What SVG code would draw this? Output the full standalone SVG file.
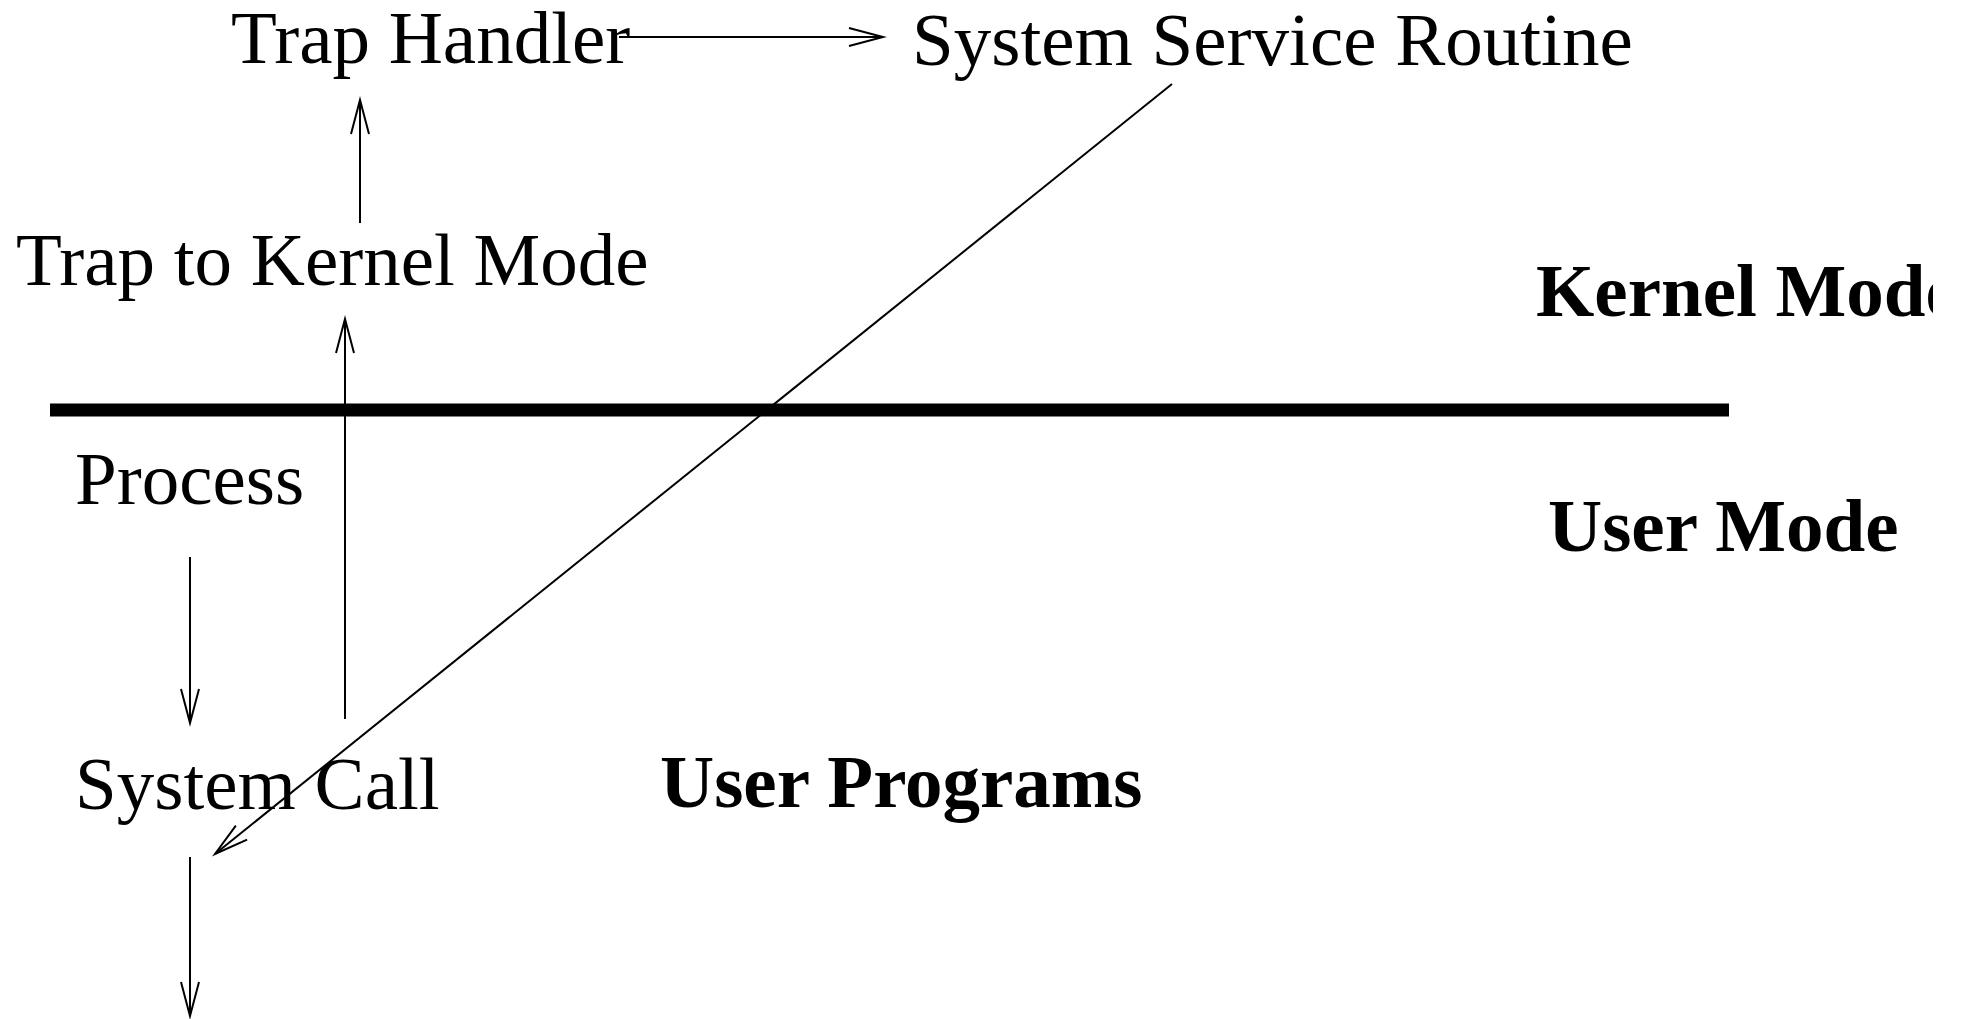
<svg xmlns="http://www.w3.org/2000/svg" width="1961" height="1019" viewBox="0 0 1961 1019">
<style>
.t{font-family:"Liberation Serif","Times New Roman",serif;font-size:75px;fill:#000}
.b{font-weight:bold}
.c{stroke:#000;stroke-width:2;fill:none}
</style>
<defs>
<marker id="ah" markerUnits="userSpaceOnUse" markerWidth="40" markerHeight="24" viewBox="-36 -12 40 24" refX="0" refY="0" orient="auto" overflow="visible">
<path d="M-34,-9 L0,0 L-34,9" fill="none" stroke="#000" stroke-width="2"/>
</marker>
<clipPath id="clip"><rect x="0" y="0" width="1933" height="1019"/></clipPath>
</defs>
<rect width="1961" height="1019" fill="#fff"/>
<g id="connectors">
<line class="c" x1="619" y1="37" x2="883" y2="37" marker-end="url(#ah)"/>
<line class="c" x1="360" y1="223" x2="360" y2="100" marker-end="url(#ah)"/>
<line class="c" x1="345" y1="719" x2="345" y2="319" marker-end="url(#ah)"/>
<line class="c" x1="190" y1="557" x2="190" y2="723" marker-end="url(#ah)"/>
<line class="c" x1="190" y1="857" x2="190" y2="1016" marker-end="url(#ah)"/>
<line class="c" x1="1172" y1="84" x2="215" y2="854" marker-end="url(#ah)"/>
</g>
<g id="divider"><line x1="50" y1="410" x2="1729" y2="410" stroke="#000" stroke-width="13"/></g>
<g id="trap-handler"><text class="t" x="231" y="63">Trap Handler</text></g>
<g id="system-service-routine"><text class="t" x="912" y="65">System Service Routine</text></g>
<g id="trap-to-kernel"><text class="t" x="16" y="285">Trap to Kernel Mode</text></g>
<g id="process"><text class="t" x="75" y="504">Process</text></g>
<g id="system-call"><text class="t" x="75" y="809">System Call</text></g>
<g id="user-programs"><text class="t b" x="660" y="807">User Programs</text></g>
<g id="kernel-mode" clip-path="url(#clip)"><text class="t b" x="1536" y="316">Kernel Mode</text></g>
<g id="user-mode"><text class="t b" x="1548" y="551">User Mode</text></g>
</svg>
